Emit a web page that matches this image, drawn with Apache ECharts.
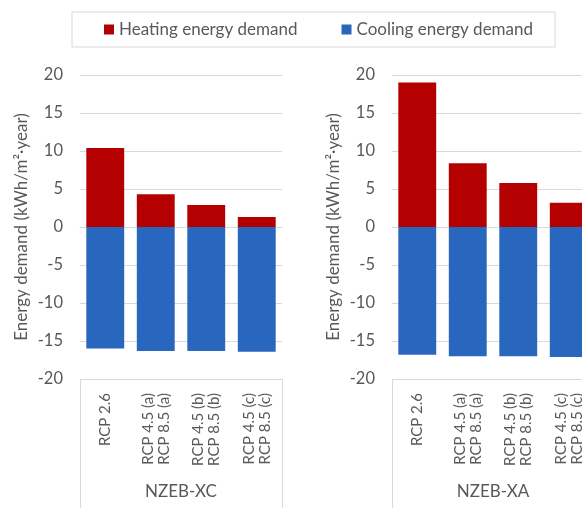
<!DOCTYPE html>
<html>
<head>
<meta charset="utf-8">
<script src="https://cdn.jsdelivr.net/npm/echarts@6/dist/echarts.min.js"></script>
<style>
  html, body { margin: 0; padding: 0; background: #fff; }
  #chart { width: 582px; height: 508px; }
</style>
</head>
<body>
<div id="chart"></div>
<script>
// Climate scenarios on the category axis (paired scenarios share one bar)
const scenarios = ['RCP 2.6', 'RCP 4.5 (a)\nRCP 8.5 (a)', 'RCP 4.5 (b)\nRCP 8.5 (b)', 'RCP 4.5 (c)\nRCP 8.5 (c)'];
const buildings = ['NZEB-XC', 'NZEB-XA'];
const yTicks = { min: -20, max: 20, step: 5 };

// Annual demand in kWh/m²·year; cooling plotted as negative
const heatingXC = [10.4, 4.3, 2.9, 1.3];
const coolingXC = [-16.0, -16.3, -16.3, -16.4];
const heatingXA = [19.0, 8.4, 5.8, 3.2];
const coolingXA = [-16.8, -17.0, -17.0, -17.1];

const heatingByBuilding = [heatingXC, heatingXA];
const coolingByBuilding = [coolingXC, coolingXA];

const FONT = 'Lato';
const TEXT = '#595959';
const GRID_LINE = '#d9d9d9';
const RED = '#B40000';
const BLUE = '#2966BE';

// second panel continues past the right edge of the canvas
const gridBoxes = [
  { left: 80, top: 75, width: 202, height: 304, outerBoundsMode: 'none', containLabel: false },
  { left: 392, top: 75, width: 202, height: 304, outerBoundsMode: 'none', containLabel: false }
];

const xAxes = [];
const yAxes = [];
const series = [];

buildings.forEach((name, i) => {
  // scenario axis
  xAxes.push({
    type: 'category',
    gridIndex: i,
    data: scenarios,
    position: 'bottom',
    axisLine: { show: true, lineStyle: { color: GRID_LINE, width: 1 } },
    axisTick: { show: false },
    axisLabel: {
      interval: 0, rotate: 90, margin: 14,
      color: TEXT, fontFamily: FONT, fontSize: 15, lineHeight: 16
    }
  });
  // building group axis below the scenarios
  xAxes.push({
    type: 'category',
    gridIndex: i,
    data: [name],
    position: 'bottom',
    axisLine: { show: false },
    axisTick: { show: true, length: 130, lineStyle: { color: GRID_LINE, width: 1 } },
    axisLabel: { margin: 104, color: TEXT, fontFamily: FONT, fontSize: 17 }
  });
  yAxes.push({
    type: 'value',
    gridIndex: i,
    min: yTicks.min, max: yTicks.max, interval: yTicks.step,
    name: 'Energy demand (kWh/m²·year)',
    nameLocation: 'middle',
    nameRotate: 90,
    nameGap: 50,
    nameTextStyle: { color: TEXT, fontFamily: FONT, fontSize: 17 },
    axisLine: { show: false },
    axisTick: { show: false },
    axisLabel: { color: TEXT, fontFamily: FONT, fontSize: 16.5, margin: 17 },
    splitLine: { lineStyle: { color: GRID_LINE, width: 1 } }
  });
  series.push({
    name: 'Heating energy demand',
    type: 'bar',
    xAxisIndex: i * 2,
    yAxisIndex: i,
    stack: 'demand' + i,
    barCategoryGap: '25%',
    itemStyle: { color: RED },
    data: heatingByBuilding[i]
  });
  series.push({
    name: 'Cooling energy demand',
    type: 'bar',
    xAxisIndex: i * 2,
    yAxisIndex: i,
    stack: 'demand' + i,
    barCategoryGap: '25%',
    itemStyle: { color: BLUE },
    data: coolingByBuilding[i]
  });
});

const chart = echarts.init(document.getElementById('chart'), null, { renderer: 'canvas' });
chart.setOption({
  animation: false,
  backgroundColor: '#fff',
  legend: {
    left: 72, top: 12,
    padding: [9, 22, 9, 32],
    itemGap: 44,
    itemWidth: 10, itemHeight: 10,
    icon: 'rect',
    borderColor: GRID_LINE, borderWidth: 1,
    textStyle: { color: TEXT, fontFamily: FONT, fontSize: 17 },
    data: ['Heating energy demand', 'Cooling energy demand']
  },
  grid: gridBoxes,
  xAxis: xAxes,
  yAxis: yAxes,
  series: series
});
</script>
</body>
</html>
